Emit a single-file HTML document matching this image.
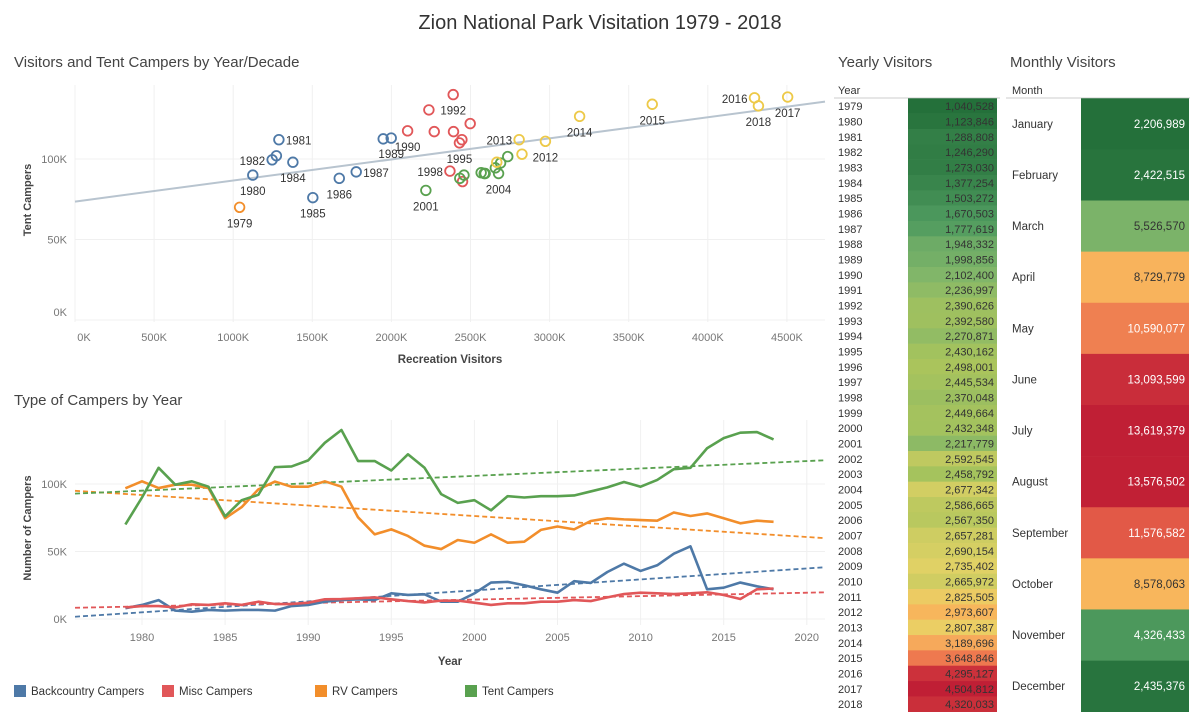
<!DOCTYPE html>
<html><head><meta charset="utf-8"><style>
body{margin:0;background:#fff;font-family:"Liberation Sans",sans-serif}
svg text{font-family:"Liberation Sans",sans-serif}
</style></head><body>
<svg id="s" width="1200" height="721" viewBox="0 0 1200 721" xmlns="http://www.w3.org/2000/svg">
<text x="600" y="29" text-anchor="middle" font-size="20" fill="#333">Zion National Park Visitation 1979 - 2018</text>
<text x="14" y="67" font-size="15" fill="#444">Visitors and Tent Campers by Year/Decade</text>
<text x="14" y="405" font-size="15" fill="#444">Type of Campers by Year</text>
<text x="838" y="67" font-size="15" fill="#444">Yearly Visitors</text>
<text x="1010" y="67" font-size="15" fill="#444">Monthly Visitors</text>
<g id="scatter"></g>
<g id="line"></g>
<g id="yearly"></g>
<g id="monthly"></g>
<g id="legend"></g>
</svg>
<script>
const years=[1979,1980,1981,1982,1983,1984,1985,1986,1987,1988,1989,1990,1991,1992,1993,1994,1995,1996,1997,1998,1999,2000,2001,2002,2003,2004,2005,2006,2007,2008,2009,2010,2011,2012,2013,2014,2015,2016,2017,2018];
const visitors=[1040528,1123846,1288808,1246290,1273030,1377254,1503272,1670503,1777619,1948332,1998856,2102400,2236997,2390626,2392580,2270871,2430162,2498001,2445534,2370048,2449664,2432348,2217779,2592545,2458792,2677342,2586665,2567350,2657281,2690154,2735402,2665972,2825505,2973607,2807387,3189696,3648846,4295127,4504812,4320033];
const tent=[70,90,112,99.5,102,98,76,88,92,112.5,113,117.5,130.5,140,117,117,110,122,112,92.5,86,88,80.5,91,90,91,91,91.5,94.5,97.5,101.5,98,103,111,112,126.5,134,138,138.5,133];
const rv=[96.8,102,97,99.5,99.5,97,74.6,82.9,96,101.8,98,98,102,98,75.3,62.7,66.4,61.5,54.3,51.8,58.5,56.5,62.7,56.5,57.3,66,68.5,66.4,72.6,74.6,73.8,73.3,72.8,78.9,76.3,78.2,74.6,70.9,72.8,72];
const backcountry=[8,10.4,14,6.2,5.4,6.7,6.2,6.7,6.7,6.2,9.6,10.4,12.8,14,14.6,14,19,17.8,18.3,12.8,12.8,19,27,27.5,25,22,19.5,28,26.7,34.8,41,35.6,39.8,48.4,53.8,22,23.2,27,24.2,22];
const misc=[8.6,9.6,9.6,8.6,10.9,10.4,11.6,10.4,12.8,11.1,11.1,12.1,14.6,14.8,15.3,16,14.6,13.3,12.3,13.6,13.6,12.1,10.4,11.6,11.6,12.8,12.8,14,13.3,16,18.5,19.5,19,18.5,19,19.8,17.8,14.8,22,22.6];
const months=["January","February","March","April","May","June","July","August","September","October","November","December"];
const monthly=[2206989,2422515,5526570,8729779,10590077,13093599,13619379,13576502,11576582,8578063,4326433,2435376];
const scatterXTicks=[0,500,1000,1500,2000,2500,3000,3500,4000,4500];
const scatterYTicks=[0,50,100];
const lineXTicks=[1980,1985,1990,1995,2000,2005,2010,2015,2020];
const lineYTicks=[0,50,100];
const labeled={1979:'b',1980:'b',1981:'r',1982:'l',1984:'b',1985:'b',1986:'b',1987:'r',1989:'b',1990:'b',1992:'b',1995:'b',1998:'l',2001:'b',2004:'b',2012:'b',2013:'l',2014:'b',2015:'b',2016:'l',2017:'b',2018:'b'};

const NS="http://www.w3.org/2000/svg";
function mk(parent,tag,attrs,txt){const e=document.createElementNS(NS,tag);for(const k in attrs)e.setAttribute(k,attrs[k]);if(txt!==undefined)e.textContent=txt;parent.appendChild(e);return e;}
function fmt(n){return n.toLocaleString('en-US');}
function reg(xs,ys){const n=xs.length;let mx=0,my=0;for(let i=0;i<n;i++){mx+=xs[i];my+=ys[i];}mx/=n;my/=n;let sxy=0,sxx=0;for(let i=0;i<n;i++){sxy+=(xs[i]-mx)*(ys[i]-my);sxx+=(xs[i]-mx)**2;}const b=sxy/sxx;return [my-b*mx,b];}
function decColor(y){if(y<1980)return'#f28e2b';if(y<1990)return'#4e79a7';if(y<2000)return'#e15759';if(y<2010)return'#59a14f';return'#edc948';}

// Scatter
const sc=document.getElementById('scatter');
const sx=v=>75+v/500000*79.1, sy=v=>320-v/50*80.5;
scatterXTicks.forEach(t=>{const x=sx(t*1000);
 const g=mk(sc,'line',{x1:x,x2:x,y1:85,y2:322,stroke:'#f0f0f0'});
 
 const l=mk(sc,'text',{x:t===0?x+9:x,y:341,'text-anchor':'middle','font-size':11,fill:'#777'},t+'K');
 });
scatterYTicks.forEach(t=>{const y=sy(t);
 const g=mk(sc,'line',{x1:75,x2:825,y1:y,y2:y,stroke:'#f0f0f0'});
 
 const l=mk(sc,'text',{x:67,y:t===0?y-4:y+4,'text-anchor':'end','font-size':11,fill:'#777'},t+'K');
 });
let e=mk(sc,'text',{x:450,y:363,'text-anchor':'middle','font-size':11.5,fill:'#444','font-weight':'bold'},'Recreation Visitors');

e=mk(sc,'text',{x:31,y:200,'text-anchor':'middle','font-size':11,fill:'#444','font-weight':'bold',transform:'rotate(-90 31 200)'},'Tent Campers');

const [a0,b0]=reg(visitors,tent);
e=mk(sc,'line',{x1:sx(0),y1:sy(a0),x2:825,y2:sy(a0+b0*((825-75)/79.1*500000)),stroke:'#b8c4cf','stroke-width':2});

years.forEach((yr,i)=>{const x=sx(visitors[i]),y=sy(tent[i]);
 const c=mk(sc,'circle',{cx:x,cy:y,r:4.8,fill:'none',stroke:decColor(yr),'stroke-width':1.8});
 
 const p=labeled[yr];if(p){let lx=x,ly=y+20,an='middle';
  if(p==='r'){lx=x+7;ly=y+5;an='start';} if(p==='l'){lx=x-7;ly=y+5;an='end';}
  const t=mk(sc,'text',{x:lx,y:ly,'text-anchor':an,'font-size':11.5,fill:'#333'},String(yr));
  }});

// Line chart
const ln=document.getElementById('line');
const lx=v=>142+(v-1980)*16.62, ly=v=>619-v*1.35;
lineXTicks.forEach(t=>{const x=lx(t);
 const g=mk(ln,'line',{x1:x,x2:x,y1:420,y2:625,stroke:'#f0f0f0'});
 
 const l=mk(ln,'text',{x:x,y:641,'text-anchor':'middle','font-size':11,fill:'#777'},String(t));
 });
lineYTicks.forEach(t=>{const y=ly(t);
 const g=mk(ln,'line',{x1:75,x2:825,y1:y,y2:y,stroke:'#f0f0f0'});
 
 const l=mk(ln,'text',{x:67,y:y+4,'text-anchor':'end','font-size':11,fill:'#777'},t+'K');
 });
e=mk(ln,'text',{x:450,y:665,'text-anchor':'middle','font-size':11.5,fill:'#444','font-weight':'bold'},'Year');

e=mk(ln,'text',{x:31,y:528,'text-anchor':'middle','font-size':11,fill:'#444','font-weight':'bold',transform:'rotate(-90 31 528)'},'Number of Campers');

const series=[['backcountry',backcountry,'#4e79a7'],['misc',misc,'#e15759'],['rv',rv,'#f28e2b'],['tent',tent,'#59a14f']];
const x0=1975.97,x1=2021.1;
series.forEach(([n,d,c])=>{const [a,b]=reg(years,d);
 const t=mk(ln,'line',{x1:lx(x0),y1:ly(a+b*x0),x2:lx(x1),y2:ly(a+b*x1),stroke:c,'stroke-width':1.8,'stroke-dasharray':'5 3'});
 });
series.forEach(([n,d,c])=>{
 const p=mk(ln,'polyline',{points:years.map((y,i)=>lx(y)+','+ly(d[i])).join(' '),fill:'none',stroke:c,'stroke-width':2.6,'stroke-linejoin':'round'});
 });

// colour scale
const stops=[[0,[36,112,58]],[0.2,[79,155,95]],[0.3,[127,181,106]],[0.42,[169,196,92]],[0.5,[232,211,102]],[0.56,[248,181,92]],[0.65,[245,163,90]],[0.75,[238,122,79]],[0.85,[221,75,68]],[1,[192,31,53]]];
function col(t){for(let i=1;i<stops.length;i++){if(t<=stops[i][0]){const [t0,c0]=stops[i-1],[t1,c1]=stops[i];const f=(t-t0)/(t1-t0);return 'rgb('+c0.map((v,k)=>Math.round(v+(c1[k]-v)*f)).join(',')+')';}}return 'rgb(192,31,53)';}

// Yearly
const yt=document.getElementById('yearly');
e=mk(yt,'text',{x:838,y:94,'font-size':11,fill:'#333'},'Year');
e=mk(yt,'line',{x1:834,x2:1000,y1:98,y2:98,stroke:'#ccc'});
const vmin=Math.min(...visitors),vmax=Math.max(...visitors),rh=(711.7-98.3)/years.length;
years.forEach((yr,i)=>{const y=98.3+i*rh;
 const r=mk(yt,'rect',{x:908,y:y,width:89,height:rh+0.3,fill:col((visitors[i]-vmin)/(vmax-vmin))});
 
 const a=mk(yt,'text',{x:838,y:y+rh-3.5,'font-size':11,fill:'#333'},String(yr));
 
 const b=mk(yt,'text',{x:994,y:y+rh-3.5,'font-size':11,fill:'#333','text-anchor':'end'},fmt(visitors[i]));
 });

// Monthly
const mt=document.getElementById('monthly');
e=mk(mt,'text',{x:1012,y:94,'font-size':11,fill:'#333'},'Month');
e=mk(mt,'line',{x1:1006,x2:1190,y1:98,y2:98,stroke:'#ccc'});
const mmin=Math.min(...monthly),mmax=Math.max(...monthly),mh=(711.7-98.3)/12;
months.forEach((m,i)=>{const y=98.3+i*mh,t=(monthly[i]-mmin)/(mmax-mmin);
 const r=mk(mt,'rect',{x:1081,y:y,width:108,height:mh+0.3,fill:col(t)});
 
 const a=mk(mt,'text',{x:1012,y:y+mh/2+4,'font-size':11.5,fill:'#333'},m);
 
 const light=(t<0.25||t>0.7);
 const b=mk(mt,'text',{x:1185,y:y+mh/2+4,'font-size':11.5,fill:light?'#fff':'#333','text-anchor':'end'},fmt(monthly[i]));
 });

// Legend
const lg=document.getElementById('legend');
[['Backcountry Campers','#4e79a7',14],['Misc Campers','#e15759',162],['RV Campers','#f28e2b',315],['Tent Campers','#59a14f',465]].forEach(([n,c,x])=>{
 const r=mk(lg,'rect',{x:x,y:685,width:12,height:12,fill:c});
 
 const t=mk(lg,'text',{x:x+17,y:695,'font-size':11.5,fill:'#333'},n);
 });
</script>
</body></html>
